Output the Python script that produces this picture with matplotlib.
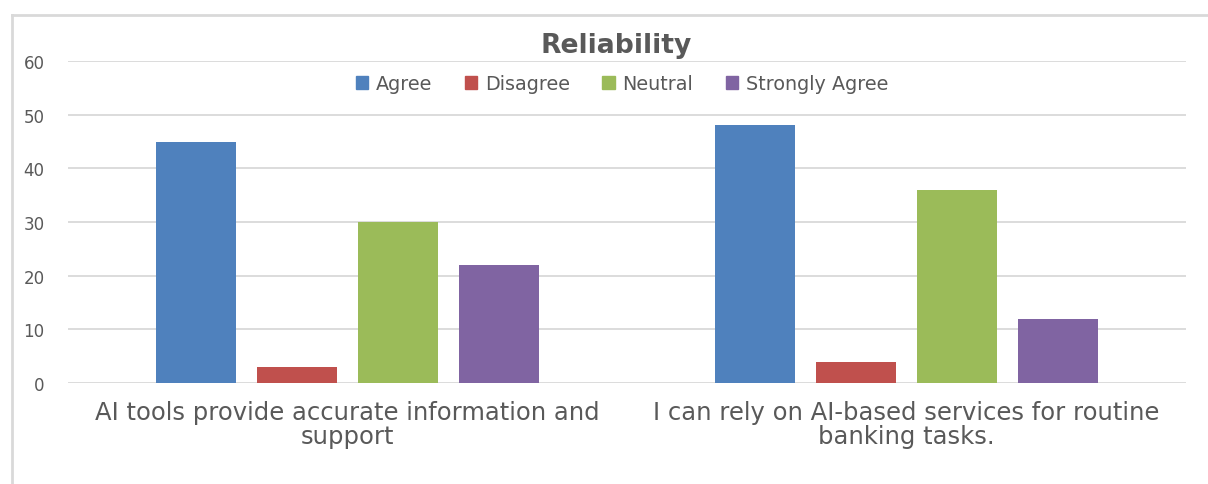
import matplotlib
matplotlib.use("Agg")
import matplotlib.pyplot as plt
from matplotlib.lines import Line2D
import numpy as np

categories = ["AI tools provide accurate information and\nsupport",
              "I can rely on AI-based services for routine\nbanking tasks."]
series = ["Agree", "Disagree", "Neutral", "Strongly Agree"]
agree = [45, 48]
disagree = [3, 4]
neutral = [30, 36]
strongly_agree = [22, 12]
yticks = [0, 10, 20, 30, 40, 50, 60]
colors = ["#4F81BD", "#C0504D", "#9BBB59", "#8064A2"]

FONT = ['DejaVu Sans']
plt.rcParams['font.family'] = FONT
TXT = "#595959"

fig = plt.figure(figsize=(12.08, 4.85), dpi=100)
renderer = fig.canvas.get_renderer()


def fit_size(s, target_px, weight='normal'):
    t = fig.text(0, 0, s, fontsize=10, fontweight=weight)
    w = t.get_window_extent(renderer).width
    t.remove()
    return 10 * target_px / w


ax = fig.add_axes([68/1208, 1-384/485, (1186-68)/1208, (384-62)/485])

x = np.arange(len(categories))
width = 0.143
step = 0.181
data = [agree, disagree, neutral, strongly_agree]
for i, (name, vals, c) in enumerate(zip(series, data, colors)):
    ax.bar(x + (i - 1.5) * step, vals, width, color=c, label=name, zorder=3)

ax.set_xlim(-0.5, 1.5)
ax.set_ylim(0, 60)
ax.set_yticks(yticks)
ax.set_yticklabels([str(t) for t in yticks], fontsize=12, color=TXT)
ax.tick_params(axis='y', length=0, pad=17)

tick_fs = fit_size(categories[0].split("\n")[0], 505)
ax.set_xticks(x)
ax.set_xticklabels(categories, fontsize=tick_fs, color=TXT, linespacing=1.0)
ax.tick_params(axis='x', length=0, pad=12)
ax.grid(axis='y', color="#D9D9D9", linewidth=1.3, zorder=0)
for s in ax.spines.values():
    s.set_visible(False)

title_fs = fit_size("Reliability", 150, 'bold')
fig.text(616/1208, 1-46/485, "Reliability", fontsize=title_fs, fontweight='bold',
         color=TXT, ha='center', va='center')

leg_fs = fit_size("Strongly Agree", 142)
handles = [plt.Rectangle((0, 0), 1, 1, color=c) for c in colors]
fig.legend(handles, series, loc='center', bbox_to_anchor=(622/1208, 1-85/485),
           ncol=4, frameon=False, fontsize=leg_fs, labelcolor=TXT,
           handlelength=0.65, handleheight=0.65, handletextpad=0.4, columnspacing=1.7,
           borderpad=0, borderaxespad=0)

fig.add_artist(Line2D([12/1208, 1], [1-16/485, 1-16/485], transform=fig.transFigure,
                      color="#D9D9D9", linewidth=2))
fig.add_artist(Line2D([12/1208, 12/1208], [0, 1-16/485], transform=fig.transFigure,
                      color="#D9D9D9", linewidth=2))

fig.savefig("out.png", dpi=100)
